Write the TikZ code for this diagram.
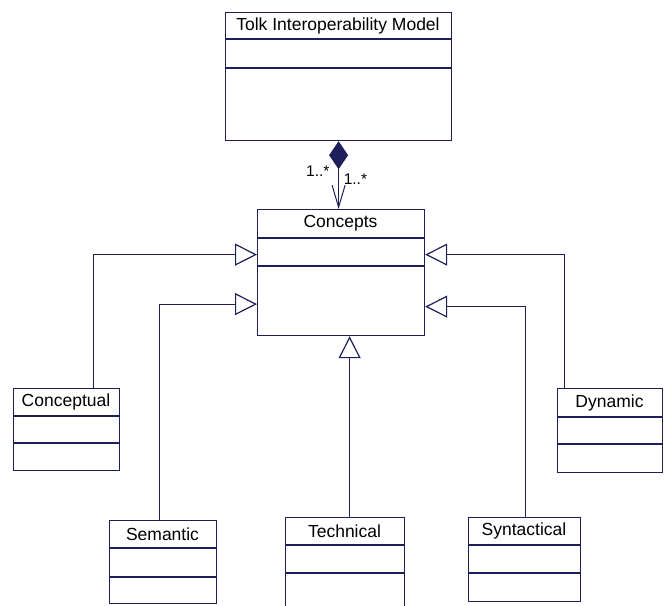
\documentclass[tikz,border=0pt]{standalone}
\usepackage{fontspec}
\setmainfont{Liberation Sans}
\usetikzlibrary{arrows.meta, calc}
\definecolor{umlnavy}{HTML}{1E1E5A}

\tikzset{
  classbox/.style={draw=umlnavy, line width=1.2pt, fill=white, anchor=north west, inner sep=0pt},
  classtitle/.style={font=\fontsize{17.5}{20}\selectfont, text=black, inner sep=0pt},
  classline/.style={draw=umlnavy, line width=1.2pt},
  gen/.style={draw=umlnavy, line width=1.2pt, -{Triangle[open, length=22pt, width=22pt]}},
  comp/.style={draw=umlnavy, line width=1.2pt,
    {Diamond[length=28pt, width=19pt, fill=umlnavy]}-{Straight Barb[length=22pt, width=13pt, line width=1pt]}},
  mult/.style={font=\fontsize{15.5}{17}\selectfont, text=black, inner sep=0pt}
}

\begin{document}
\begin{tikzpicture}[x=1pt, y=-1pt]
        \useasboundingbox (0,0) rectangle (668,605);
        \clip (0,0) rectangle (668,605);
        % classes: name/title/left/top/right/line1/line2/bottom
        \foreach \name/\title/\xa/\ya/\xb/\yc/\yd/\yb in {
          tolk/Tolk Interoperability Model/225/12/451/39/68/140,
          concepts/Concepts/257/209/424/238/266/335,
          conceptual/Conceptual/13/388/119/416/443/470,
          semantic/Semantic/109/520/216/548/577/603,
          technical/Technical/285/517/404/545/573/625,
          syntactical/Syntactical/468/517/580/545/573/601,
          dynamic/Dynamic/557/388/662/417/444/472}{
          \node[classbox, minimum width={(\xb-\xa)*1pt}, minimum height={(\yb-\ya)*1pt}]
            (\name) at (\xa,\ya) {};
          \draw[classline] (\xa,\yc) -- (\xb,\yc);
          \draw[classline] (\xa,\yd) -- (\xb,\yd);
          \node[classtitle] (\name-title) at ({(\xa+\xb)/2},{(\ya+\yc)/2}) {\title};
        }
        % composition
        \draw[comp] (tolk.south) -- (tolk.south |- concepts.north);
        \node[mult, anchor=east] (multleft) at ([xshift=-9pt, yshift=-30pt]tolk.south) {1..*};
        \node[mult, anchor=west] (multright) at ([xshift=5pt, yshift=-38pt]tolk.south) {1..*};
        % generalizations
        \draw[gen] ([xshift=27pt]conceptual.north) |- ([yshift=18pt]concepts.west);
        \draw[gen] ([xshift=-3.5pt]semantic.north) |- ([yshift=-31.5pt]concepts.west);
        \draw[gen] ([xshift=4.5pt]technical.north) -- ([xshift=8.5pt]concepts.south);
        \draw[gen] ([xshift=1pt]syntactical.north) |- ([yshift=-34pt]concepts.east);
        \draw[gen] ([xshift=-45.5pt]dynamic.north) |- ([yshift=18pt]concepts.east);
      \end{tikzpicture}
\end{document}
